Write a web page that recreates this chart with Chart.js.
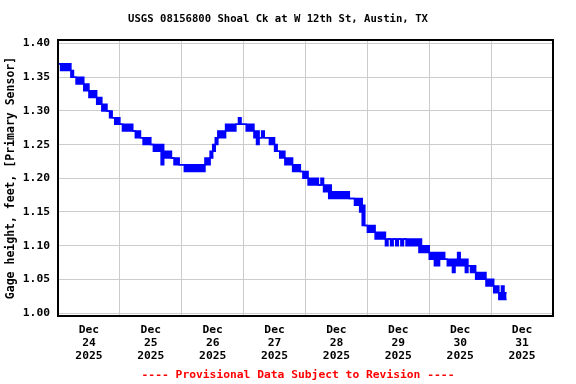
<!DOCTYPE html>
<html><head><meta charset="utf-8">
<script src="https://cdn.jsdelivr.net/npm/chart.js@4.4.1/dist/chart.umd.min.js"></script>
<style>html,body{margin:0;padding:0;background:#fff}#wrap{width:576px;height:384px}</style>
</head><body><div id="wrap"><canvas id="c" width="576" height="384"></canvas></div>
<script>
const titleText = 'USGS 08156800 Shoal Ck at W 12th St, Austin, TX';
const footerText = '---- Provisional Data Subject to Revision ----';
const yAxisTitle = 'Gage height, feet, [Primary Sensor]';
const monthLabel = 'Dec';
const yearLabel = '2025';
const dayLabels = ['24','25','26','27','28','29','30','31'];
const yTicks = [1.00,1.05,1.10,1.15,1.20,1.25,1.30,1.35,1.40];
// hourly low / high gage height (ft), hours from Dec 24 00:00
const hourLow = [
1.37,1.37,1.36,1.36,1.36,1.36,1.35,1.35,1.34,1.34,1.34,1.33,
1.33,1.32,1.32,1.32,1.31,1.31,1.30,1.30,1.30,1.29,1.29,1.28,
1.28,1.28,1.27,1.27,1.27,1.27,1.27,1.26,1.26,1.26,1.25,1.25,
1.25,1.25,1.24,1.24,1.24,1.22,1.23,1.23,1.23,1.23,1.22,1.22,
1.22,1.22,1.21,1.21,1.21,1.21,1.21,1.21,1.21,1.21,1.22,1.22,
1.23,1.24,1.25,1.26,1.26,1.26,1.27,1.27,1.27,1.27,1.28,1.28,
1.28,1.28,1.27,1.27,1.27,1.26,1.25,1.26,1.26,1.26,1.26,1.25,
1.25,1.24,1.24,1.23,1.23,1.22,1.22,1.22,1.21,1.21,1.21,1.21,
1.20,1.20,1.19,1.19,1.19,1.19,1.19,1.19,1.18,1.18,1.17,1.17,
1.17,1.17,1.17,1.17,1.17,1.17,1.17,1.17,1.16,1.16,1.15,1.13,
1.13,1.12,1.12,1.12,1.11,1.11,1.11,1.11,1.10,1.11,1.10,1.11,
1.10,1.11,1.10,1.11,1.10,1.10,1.10,1.10,1.10,1.09,1.09,1.09,
1.09,1.08,1.08,1.07,1.07,1.08,1.08,1.08,1.07,1.07,1.06,1.07,
1.07,1.07,1.07,1.06,1.07,1.06,1.06,1.05,1.05,1.05,1.05,1.04,
1.04,1.04,1.03,1.03,1.02,1.02,1.02
];
const hourHigh = [
1.38,1.37,1.37,1.37,1.37,1.37,1.36,1.35,1.35,1.35,1.35,1.34,
1.34,1.33,1.33,1.33,1.32,1.32,1.31,1.31,1.30,1.30,1.29,1.29,
1.29,1.28,1.28,1.28,1.28,1.28,1.27,1.27,1.27,1.26,1.26,1.26,
1.26,1.25,1.25,1.25,1.25,1.25,1.24,1.24,1.24,1.23,1.23,1.23,
1.22,1.22,1.22,1.22,1.22,1.22,1.22,1.22,1.22,1.22,1.23,1.23,
1.24,1.25,1.26,1.27,1.27,1.27,1.28,1.28,1.28,1.28,1.28,1.29,
1.28,1.28,1.28,1.28,1.28,1.27,1.27,1.26,1.27,1.26,1.26,1.26,
1.26,1.25,1.24,1.24,1.24,1.23,1.23,1.23,1.22,1.22,1.22,1.21,
1.21,1.21,1.20,1.20,1.20,1.20,1.19,1.20,1.19,1.19,1.19,1.18,
1.18,1.18,1.18,1.18,1.18,1.18,1.17,1.17,1.17,1.17,1.17,1.16,
1.13,1.13,1.13,1.13,1.12,1.12,1.12,1.12,1.11,1.11,1.11,1.11,
1.11,1.11,1.11,1.11,1.11,1.11,1.11,1.11,1.11,1.11,1.10,1.10,
1.10,1.09,1.09,1.09,1.09,1.09,1.09,1.08,1.08,1.08,1.08,1.08,
1.09,1.08,1.08,1.08,1.07,1.07,1.07,1.06,1.06,1.06,1.06,1.05,
1.05,1.05,1.04,1.04,1.03,1.04,1.03
];

const FONT = "'DejaVu Sans Mono', 'Liberation Mono', monospace";
const BLUE = '#0000ff';
const hiData = hourHigh.map((v,i)=>({x:i,y:v}));
const loData = hourLow.map((v,i)=>({x:i,y:v}));

const frame = {
  id:'frame',
  afterDraw(chart){
    const {ctx, chartArea:a} = chart;
    ctx.save();
    ctx.strokeStyle = '#000'; ctx.lineWidth = 2;
    ctx.strokeRect(a.left, a.top, a.right-a.left, a.bottom-a.top);
    ctx.textAlign = 'center'; ctx.textBaseline = 'middle';
    ctx.fillStyle = '#000';
    ctx.font = 'bold 10.6px ' + FONT;
    ctx.fillText(titleText, 278, 19);
    ctx.fillStyle = '#ff0000';
    ctx.font = 'bold 11.3px ' + FONT;
    ctx.fillText(footerText, 298, 375);
    ctx.restore();
  }
};

new Chart(document.getElementById('c'), {
  type:'line',
  data:{datasets:[
    {data:hiData, borderColor:BLUE, backgroundColor:BLUE, borderWidth:1.5, stepped:'after', pointRadius:0, fill:'+1'},
    {data:loData, borderColor:BLUE, backgroundColor:BLUE, borderWidth:1.5, stepped:'after', pointRadius:0, fill:false}
  ]},
  options:{
    responsive:false, animation:false, events:[],
    layout:{padding:{top:40,right:23,left:0,bottom:0}},
    plugins:{legend:{display:false}, tooltip:{enabled:false}},
    scales:{
      x:{
        type:'linear', min:0, max:192,
        afterFit(s){ s.height = 68; },
        afterBuildTicks(s){ const t=[]; for(let v=0; v<=192; v+=12) t.push({value:v}); s.ticks=t; },
        grid:{drawTicks:false, lineWidth:1, color:(c)=> (c.tick && c.tick.value%24===0) ? '#cccccc' : 'rgba(0,0,0,0)'},
        border:{display:false},
        ticks:{autoSkip:false, maxRotation:0, padding:8, color:'#000',
          font:{family:FONT, size:11.3, weight:'bold', lineHeight:1.15},
          callback:(v)=>{ if(v%24!==12) return ''; const d=Math.floor(v/24); return [monthLabel, dayLabels[d], yearLabel]; }}
      },
      y:{
        min:0.9956, max:1.4052,
        afterFit(s){ s.width = 58; },
        afterBuildTicks(s){ s.ticks = yTicks.map(v=>({value:v})); },
        grid:{drawTicks:false, lineWidth:1, color:'#cccccc'},
        border:{display:false},
        ticks:{padding:8, color:'#000', font:{family:FONT, size:11.3, weight:'bold'},
          callback:(v)=>Number(v).toFixed(2)},
        title:{display:true, text:yAxisTitle, color:'#000', padding:{top:4,bottom:0},
          font:{family:FONT, size:11.5, weight:'bold', lineHeight:1.15}}
      }
    }
  },
  plugins:[frame]
});
</script></body></html>
